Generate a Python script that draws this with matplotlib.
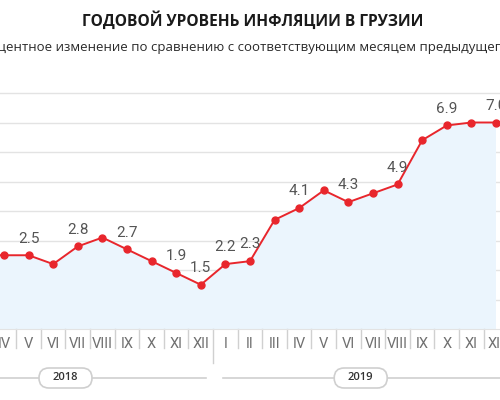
import matplotlib
matplotlib.use('Agg')
import matplotlib.pyplot as plt
import numpy as np
from matplotlib.patches import FancyBboxPatch
from matplotlib.transforms import blended_transform_factory

# monthly data, Jan 2018 .. Dec 2019 (chart is cropped on the left)
months = ['I', 'II', 'III', 'IV', 'V', 'VI', 'VII', 'VIII', 'IX', 'X', 'XI', 'XII'] * 2
years = ['2018', '2019']
inflation = [np.nan, np.nan, 2.5, 2.5, 2.5, 2.2, 2.8, 3.1, 2.7, 2.3, 1.9, 1.5,
             2.2, 2.3, 3.7, 4.1, 4.7, 4.3, 4.6, 4.9, 6.4, 6.9, 7.0, 7.0]
show_label = [0, 0, 0, 0, 1, 0, 1, 0, 1, 0, 1, 1,
              1, 1, 0, 1, 0, 1, 0, 1, 0, 1, 0, 1]

title = 'ГОДОВОЙ УРОВЕНЬ ИНФЛЯЦИИ В ГРУЗИИ'
subtitle = 'Процентное изменение по сравнению с соответствующим месяцем предыдущего года'

RED = '#e8262c'
FILL = '#ebf5fd'
GRID = '#e3e3e3'
NARROW = ['Roboto', 'DejaVu Sans']
SANS = ['Open Sans', 'DejaVu Sans']

fig = plt.figure(figsize=(5, 4), dpi=100)
ax = fig.add_axes([-0.1642, 0.1775, 1.1808, 0.649])

x = np.arange(len(months))
y = np.array(inflation, dtype=float)

ax.fill_between(x, y, 0, color=FILL, lw=0, zorder=1)
ax.plot(x, y, color=RED, lw=1.4, marker='o', ms=5, zorder=3)

for xi, yi, s in zip(x, y, show_label):
    if s and not np.isnan(yi):
        ax.annotate(f'{yi:.1f}', (xi, yi), xytext=(0, 7), textcoords='offset points',
                    ha='center', va='bottom', fontsize=11, color='#555555',
                    family=NARROW, zorder=4)

ax.set_xlim(-0.5, len(months) - 0.5)
ax.set_ylim(0, 8.8)
ax.set_yticks(range(1, 9))
ax.grid(axis='y', color=GRID, lw=1)
ax.set_axisbelow(True)
ax.set_xticks([])
ax.tick_params(left=False, labelleft=False)
for sp in ['top', 'right', 'left']:
    ax.spines[sp].set_visible(False)
ax.spines['bottom'].set_color(GRID)

# month labels and separators under the plot
tr = blended_transform_factory(ax.transData, fig.transFigure)
for i, m in enumerate(months):
    ax.text(i, 1 - 344 / 400, m, transform=tr, ha='center', va='center',
            fontsize=10.5, color='#707070', family=NARROW)
for i in range(len(months) - 1):
    bottom = 363 if i == 11 else 348
    ax.plot([i + 0.5, i + 0.5], [1 - 329 / 400, 1 - bottom / 400], transform=tr,
            color='#d0d0d0', lw=1, clip_on=False)

# year bands with pill labels
for j, yr in enumerate(years):
    x0 = j * 12 - 0.5 + (0.4 if j else 0)
    x1 = j * 12 + 11.5 - (0 if j else 0.3)
    ax.plot([x0, x1], [1 - 378 / 400] * 2, transform=tr, color='#d0d0d0', lw=1.2,
            clip_on=False)
    xc = ax.transData.transform((j * 12 + 5.5, 0))[0] / fig.dpi
    yc = (400 - 378) / 100
    w, h = 0.53, 0.20
    pill = FancyBboxPatch((xc - w / 2, yc - h / 2), w, h,
                          boxstyle='round,pad=0,rounding_size=0.10',
                          transform=fig.dpi_scale_trans, fc='white', ec='#cfcfcf',
                          lw=1.2, clip_on=False)
    fig.add_artist(pill)
    fig.text(xc / 5, yc / 4, yr, ha='center', va='center', fontsize=8,
             color='#333333', family=SANS, fontweight='semibold')

fig.text(253 / 500, 1 - 21 / 400, title, ha='center', va='center', fontsize=11.2,
         fontweight='bold', color='#1a1a1a', family=SANS)
fig.text(256 / 500, 1 - 48 / 400, subtitle, ha='center', va='center', fontsize=9.55,
         color='#2a2a2a', family=SANS)

fig.savefig('out.png', dpi=100)
